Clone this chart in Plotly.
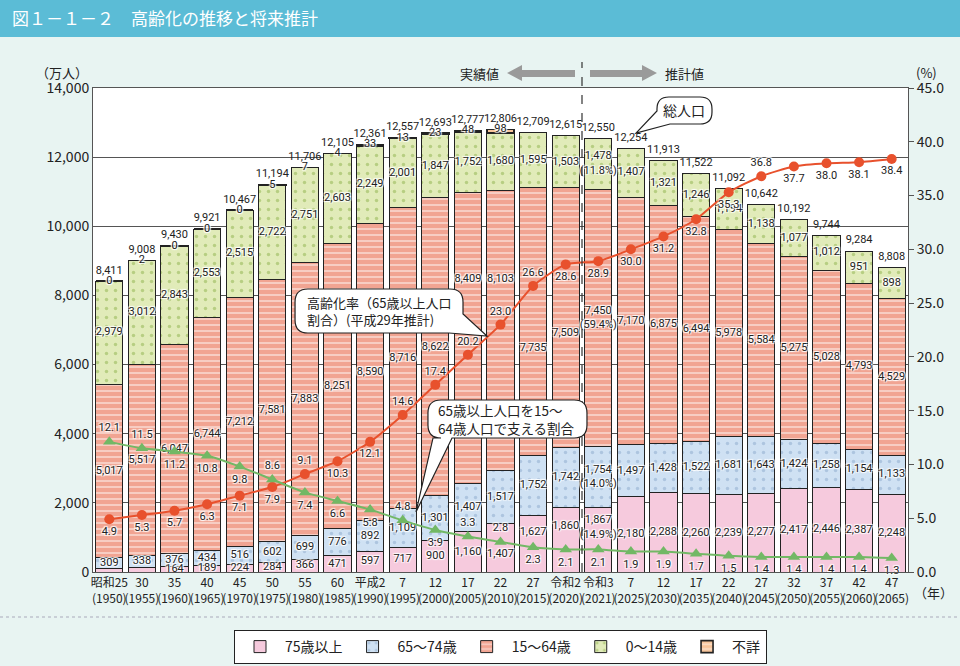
import plotly.graph_objects as go

# data (万人, %)
era = ["昭和25", "30", "35", "40", "45", "50", "55", "60", "平成2", "7", "12", "17", "22",
       "27", "令和2", "令和3", "7", "12", "17", "22", "27", "32", "37", "42", "47"]
years = [1950, 1955, 1960, 1965, 1970, 1975, 1980, 1985, 1990, 1995, 2000, 2005, 2010,
         2015, 2020, 2021, 2025, 2030, 2035, 2040, 2045, 2050, 2055, 2060, 2065]
age75 = [107, 139, 164, 189, 224, 284, 366, 471, 597, 717, 900, 1160, 1407,
         1627, 1860, 1867, 2180, 2288, 2260, 2239, 2277, 2417, 2446, 2387, 2248]
age65_74 = [309, 338, 376, 434, 516, 602, 699, 776, 892, 1109, 1301, 1407, 1517,
            1752, 1742, 1754, 1497, 1428, 1522, 1681, 1643, 1424, 1258, 1154, 1133]
age15_64 = [5017, 5517, 6047, 6744, 7212, 7581, 7883, 8251, 8590, 8716, 8622, 8409, 8103,
            7735, 7509, 7450, 7170, 6875, 6494, 5978, 5584, 5275, 5028, 4793, 4529]
age0_14 = [2979, 3012, 2843, 2553, 2515, 2722, 2751, 2603, 2249, 2001, 1847, 1752, 1680,
           1595, 1503, 1478, 1407, 1321, 1246, 1194, 1138, 1077, 1012, 951, 898]
unknown = [0, 2, 0, 0, 0, 5, 7, 4, 33, 13, 23, 48, 98] + [None] * 12
total = [8411, 9008, 9430, 9921, 10467, 11194, 11706, 12105, 12361, 12557, 12693, 12777, 12806,
         12709, 12615, 12550, 12254, 11913, 11522, 11092, 10642, 10192, 9744, 9284, 8808]
aging_rate = [4.9, 5.3, 5.7, 6.3, 7.1, 7.9, 9.1, 10.3, 12.1, 14.6, 17.4, 20.2, 23.0,
              26.6, 28.6, 28.9, 30.0, 31.2, 32.8, 35.3, 36.8, 37.7, 38.0, 38.1, 38.4]
support = [12.1, 11.5, 11.2, 10.8, 9.8, 8.6, 7.4, 6.6, 5.8, 4.8, 3.9, 3.3, 2.8,
           2.3, 2.1, 2.1, 1.9, 1.9, 1.7, 1.5, 1.4, 1.4, 1.4, 1.4, 1.3]
# shares shown for 令和3 (2021)
share_2021 = {"75": "14.9%", "65": "14.0%", "15": "59.4%", "0": "11.8%"}
i2021 = 15

cats = [f"{e}<br>({y})" for e, y in zip(era, years)]

FONT = "Noto Sans CJK JP"
NUM = "Liberation Sans Narrow, Roboto, Noto Sans CJK JP"
HALO = "1px 1px 1px white, -1px -1px 1px white, 1px -1px 1px white, -1px 1px 1px white"

# label placement tweaks
rate_pos = ["bottom center"] * 6 + ["top center", "bottom center", "bottom center"] + \
    ["top center"] * 5 + ["bottom center"] * 6 + ["top center"] + ["bottom center"] * 4
sup_pos = ["top center", "top center", "bottom center", "bottom center", "bottom center",
           "top center", "bottom center", "bottom center", "bottom center", "top center",
           "bottom center", "top center", "top center"] + ["bottom center"] * 12
label_shift = {"15": {11: 1700, 12: 1500, 13: -770, 14: -450},
               "75": {0: -150, 1: -150, 12: -200, 13: 350, 14: 380, 15: 350}}
total_gap = 140  # 万人, space between bar top and total label

# plot area in pixels: x 93..908, y 88..572
L, R, T, B = 93, 908, 88, 572


def pp(x, y):
    return (x - L) / (R - L), (B - y) / (B - T)


def path(points):
    out = []
    for cmd, pts in points:
        if cmd == "Q":
            (ax, ay), (bx, by) = pts
            p1, p2 = pp(ax, ay), pp(bx, by)
            out.append(f"Q{p1[0]:.4f},{p1[1]:.4f} {p2[0]:.4f},{p2[1]:.4f}")
        else:
            for x, y in pts:
                q = pp(x, y)
                out.append(f"{cmd}{q[0]:.4f},{q[1]:.4f}")
                cmd = "L"
    return " ".join(out) + " Z"


fig = go.Figure()

seg_style = [
    ("75歳以上", age75, "#F6CADD", "", "#F6CADD"),
    ("65～74歳", age65_74, "#CFE1F3", ".", "#8CA9CC"),
    ("15～64歳", age15_64, "#F1A492", "-", "#FFFFFF"),
    ("0～14歳", age0_14, "#E1EBB9", ".", "#8DB24B"),
    ("不詳", unknown, "#F7C49A", "-", "#FFFFFF"),
]
for name, vals, col, shape, fg in seg_style:
    fig.add_trace(go.Bar(
        x=cats, y=vals, name=name,
        marker=dict(color=col,
                    line=dict(color="#222", width=1.6 if name == "不詳" else 1),
                    pattern=dict(shape=shape, fgcolor=fg, bgcolor=col,
                                 size=6 if shape == "-" else 9,
                                 solidity=0.3 if shape == "-" else 0.12)),
        hoverinfo="skip",
    ))

# segment labels
bottom = [0] * len(cats)
keys = ["75", "65", "15", "0"]
for k, vals in zip(keys, [age75, age65_74, age15_64, age0_14]):
    ys, txt = [], []
    for i, v in enumerate(vals):
        c = bottom[i] + v / 2 + label_shift.get(k, {}).get(i, 0)
        ys.append(c)
        t = f"{v:,}"
        if i == i2021:
            t += f"<br>({share_2021[k]})"
        txt.append(t)
        bottom[i] += v
    fig.add_trace(go.Scatter(x=cats, y=ys, text=txt, mode="text", showlegend=False,
                             textfont=dict(size=11, color="#222", family=NUM, shadow=HALO),
                             cliponaxis=False, hoverinfo="skip"))

tops = [b + (u or 0) for b, u in zip(bottom, unknown)]
n_unk = sum(u is not None for u in unknown)
fig.add_trace(go.Scatter(x=cats[:n_unk], y=tops[:n_unk], text=[str(u) for u in unknown[:n_unk]],
                         mode="text", showlegend=False, cliponaxis=False, hoverinfo="skip",
                         textfont=dict(size=11, color="#222", family=NUM, shadow=HALO)))
fig.add_trace(go.Scatter(x=cats, y=[t + total_gap for t in tops], text=[f"{t:,}" for t in total],
                         mode="text", textposition="top center", showlegend=False,
                         cliponaxis=False, hoverinfo="skip",
                         textfont=dict(size=11, color="#222", family=NUM)))

# lines (right axis)
fig.add_trace(go.Scatter(
    x=cats, y=aging_rate, yaxis="y2", mode="lines+markers+text", showlegend=False,
    line=dict(color="#E8512D", width=2, shape="spline", smoothing=0.6),
    marker=dict(symbol="circle", size=10, color="#E8512D"),
    text=[f"{v:.1f}" for v in aging_rate], textposition=rate_pos,
    textfont=dict(size=11, color="#222", family=NUM, shadow=HALO),
    cliponaxis=False, hoverinfo="skip"))
fig.add_trace(go.Scatter(
    x=cats, y=support, yaxis="y2", mode="lines+markers+text", showlegend=False,
    line=dict(color="#72B865", width=2, shape="spline", smoothing=0.6),
    marker=dict(symbol="triangle-up", size=11, color="#72B865"),
    text=[f"{v:.1f}" for v in support], textposition=sup_pos,
    textfont=dict(size=11, color="#222", family=NUM, shadow=HALO),
    cliponaxis=False, hoverinfo="skip"))

shapes = []
# title band
x0, y0 = pp(0, 0)
x1, y1 = pp(960, 37)
shapes.append(dict(type="rect", xref="paper", yref="paper", x0=x0, y0=y0, x1=x1, y1=y1,
                   fillcolor="#5BBCD6", line=dict(width=0), layer="below"))
# dotted separator above legend
sx0, sy = pp(0, 617)
sx1, _ = pp(960, 617)
shapes.append(dict(type="line", xref="paper", yref="paper", x0=sx0, x1=sx1, y0=sy, y1=sy,
                   line=dict(color="#AAB", width=1, dash="dot")))
# actual / projected divider
shapes.append(dict(type="line", xref="x", yref="paper", x0=i2021 - 0.5, x1=i2021 - 0.5,
                   y0=0, y1=pp(0, 62)[1], line=dict(color="#333", width=1.2, dash="dash"),
                   layer="above"))
# gray arrows
shapes.append(dict(type="path", xref="paper", yref="paper", fillcolor="#9A9A9A",
                   line=dict(width=0),
                   path=path([("M", [(507, 73), (522, 65), (522, 70), (575, 70),
                                     (575, 77), (522, 77), (522, 81)])])))
shapes.append(dict(type="path", xref="paper", yref="paper", fillcolor="#9A9A9A",
                   line=dict(width=0),
                   path=path([("M", [(657, 73), (642, 65), (642, 70), (590, 70),
                                     (590, 77), (642, 77), (642, 81)])])))


def callout(x0, y0, x1, y1, r, pointer):
    side, a, tip, b = pointer
    pts = [("M", [(x0 + r, y0), (x1 - r, y0)]), ("Q", [(x1, y0), (x1, y0 + r)])]
    if side == "right":
        pts += [("L", [(x1, a), tip, (b, y1), (x0 + r, y1)])]
    else:
        pts += [("L", [(x1, y1 - r)]), ("Q", [(x1, y1), (x1 - r, y1)])]
        if side == "bottom":
            pts += [("L", [(b, y1), tip, (a, y1), (x0 + r, y1)])]
        else:  # bottom-left
            pts += [("L", [(b, y1), tip, (x0, a), (x0, y0 + r)]), ("Q", [(x0, y0), (x0 + r, y0)])]
            return path(pts)
    pts += [("Q", [(x0, y1), (x0, y1 - r)]), ("L", [(x0, y0 + r)]), ("Q", [(x0, y0), (x0 + r, y0)])]
    return path(pts)


for p in [callout(295, 289, 463, 333, 13, ("right", 314, (487, 336), 449)),
          callout(428, 400, 587, 438, 13, ("bottom", 433, (416, 512), 452)),
          callout(657, 97, 712, 124, 12, ("bottomleft", 111, (636, 133), 670))]:
    shapes.append(dict(type="path", xref="paper", yref="paper", path=p, fillcolor="white",
                       line=dict(color="#222", width=1.2), layer="above"))

annotations = []


def note(x, y, text, size=13, color="#222", xanchor="center", align="center"):
    ax, ay = pp(x, y)
    annotations.append(dict(x=ax, y=ay, xref="paper", yref="paper", text=text, showarrow=False,
                            xanchor=xanchor, yanchor="middle", align=align,
                            font=dict(family=FONT, size=size, color=color)))


note(10, 18, "図１－１－２　高齢化の推移と将来推計", size=17, color="white", xanchor="left")
note(62, 72, "（万人）", size=13)
note(926, 72, "(%)", size=13)
note(933, 592, "（年）", size=13)
note(479, 73, "実績値", size=13)
note(684, 73, "推計値", size=13)
note(379, 311, "高齢化率（65歳以上人口<br>割合）(平成29年推計)", size=13, align="left")
note(507, 419, "65歳以上人口を15～<br>64歳人口で支える割合", size=13.5, align="left")
note(684, 110, "総人口", size=14)

fig.update_layout(
    width=960, height=666,
    margin=dict(l=L, r=960 - R, t=T, b=666 - B, autoexpand=False),
    paper_bgcolor="#E8F4F2", plot_bgcolor="white",
    barmode="stack", bargap=0.17,
    font=dict(family=FONT, size=12, color="#222"),
    xaxis=dict(type="category", range=[-0.5, len(cats) - 0.5], showline=True,
               linecolor="#555", mirror=True,
               tickfont=dict(size=12), ticks="", tickangle=0, automargin=False),
    yaxis=dict(range=[0, 14000], dtick=2000, tickformat=",", showline=True, linecolor="#555",
               mirror=True, gridcolor="#555", gridwidth=1, tickfont=dict(size=14),
               zeroline=False, automargin=False),
    yaxis2=dict(range=[0, 45], dtick=5, tickformat=".1f", overlaying="y", side="right",
                showgrid=False, showline=True, linecolor="#555", ticks="outside", ticklen=5,
                tickcolor="#555", tickfont=dict(size=14), zeroline=False, automargin=False),
    legend=dict(orientation="h", x=0.5, xanchor="center", y=pp(0, 630)[1], yanchor="top",
                bgcolor="white", bordercolor="#222", borderwidth=1, traceorder="normal",
                font=dict(size=14), itemwidth=40),
    shapes=shapes, annotations=annotations,
)

fig.write_html("out.html", config={"displayModeBar": False},
               post_script="document.body.style.margin='0';")
